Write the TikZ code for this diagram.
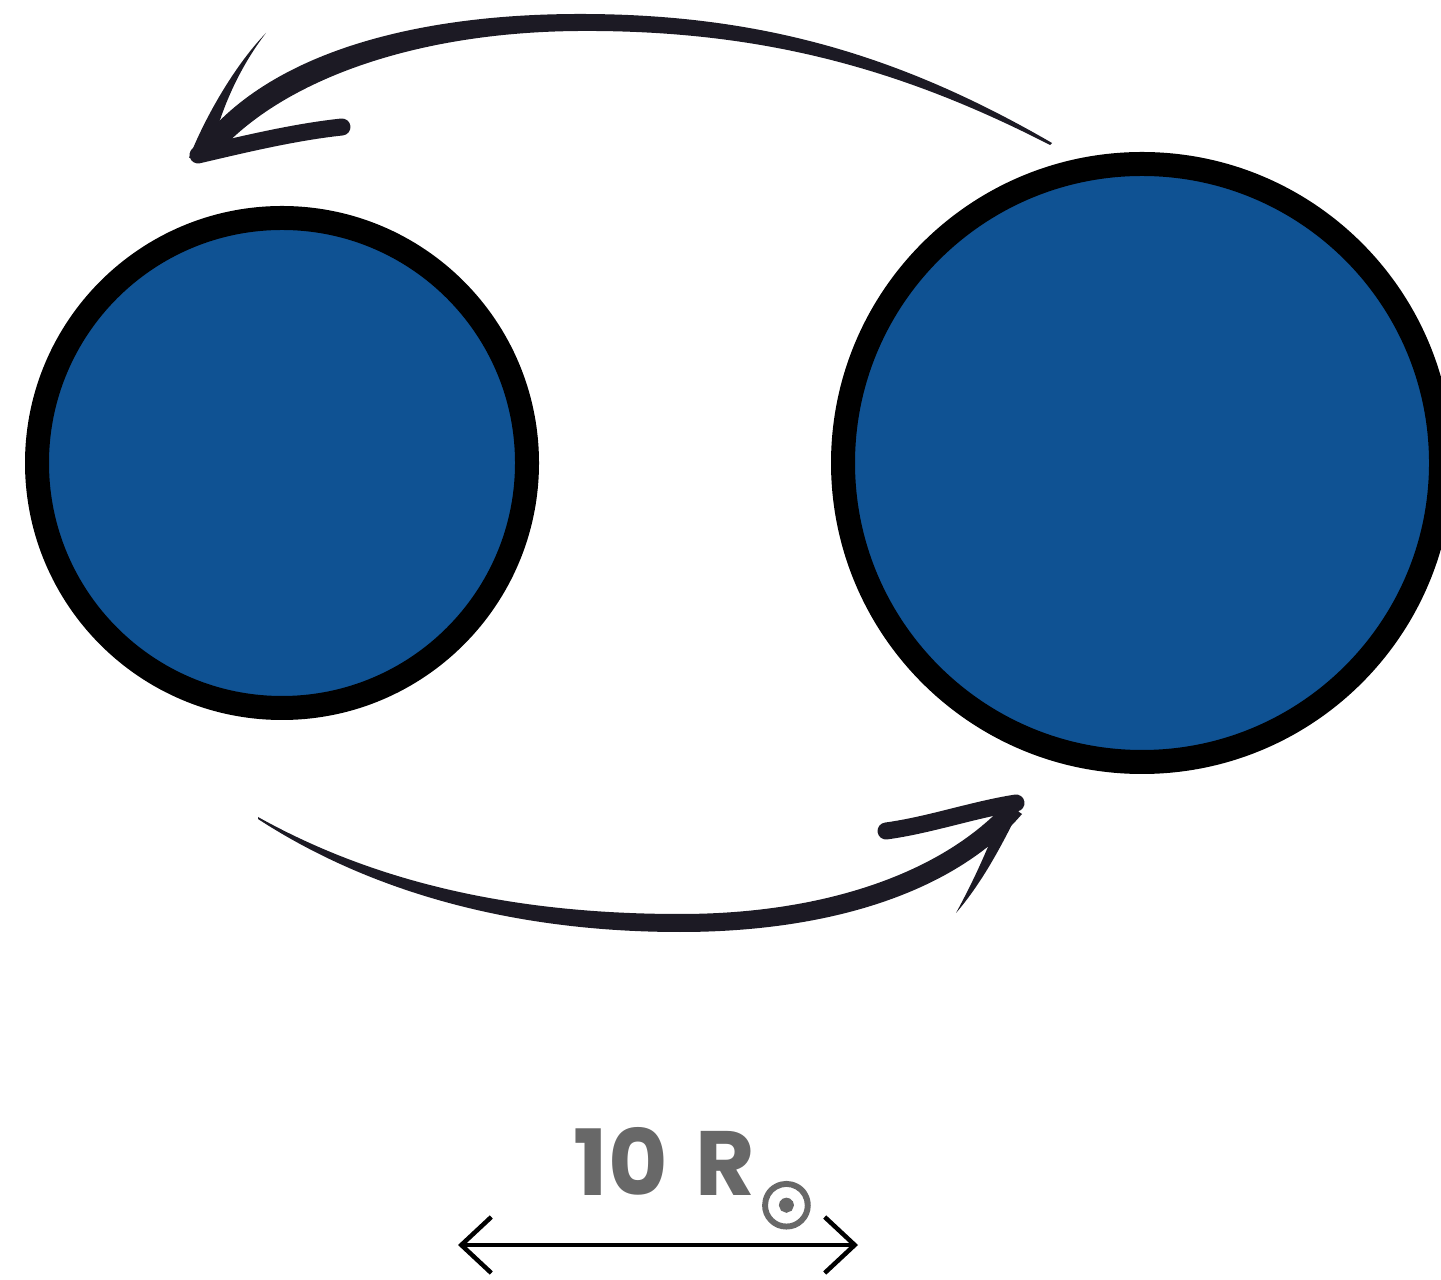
\documentclass[tikz,border=0pt]{standalone}
\usepackage{fontspec}
\setmainfont{Poppins}
\newfontfamily\sunfont[FakeBold=6]{DejaVu Sans}
\usetikzlibrary{arrows.meta}
\definecolor{starblue}{RGB}{15,82,147}
\definecolor{brushink}{RGB}{28,26,36}
\definecolor{labelgray}{RGB}{104,104,104}

\begin{document}
\begin{tikzpicture}[star/.style={circle,draw=black,fill=starblue,line width=0.24cm,inner sep=0pt},
  stroke/.style={brushink,line width=0.17cm,line cap=round},
  dimarrow/.style={black,line width=0.045cm,{Straight Barb[length=0.3cm,width=0.56cm]}-{Straight Barb[length=0.3cm,width=0.56cm]}}]
  \useasboundingbox (0,0) rectangle (14.41,-12.80);
  % the two stars
  \node[star,minimum size=4.90cm] (s1) at (2.82,-4.63) {};
  \node[star,minimum size=5.98cm] (s2) at (11.42,-4.63) {};
  % upper orbit arrow
  \fill[brushink] (10.52,-1.43) .. controls (9.00,-0.55) and (7.60,-0.14) .. (5.80,-0.14)
    .. controls (4.00,-0.14) and (2.55,-0.60) .. (1.92,-1.54)
    -- (2.12,-1.60) .. controls (2.72,-0.86) and (4.05,-0.32) .. (5.80,-0.31)
    .. controls (7.60,-0.30) and (9.00,-0.68) .. (10.50,-1.45) -- cycle;
  \fill[brushink] (2.66,-0.33) .. controls (2.36,-0.64) and (2.06,-1.15) .. (1.89,-1.58)
    -- (2.12,-1.48) .. controls (2.22,-1.05) and (2.42,-0.64) .. cycle;
  \draw[stroke] (1.98,-1.55) .. controls (2.45,-1.44) and (2.95,-1.32) .. (3.42,-1.27);
  % lower orbit arrow
  \fill[brushink] (2.58,-8.17) .. controls (3.80,-8.85) and (5.20,-9.14) .. (6.80,-9.14)
    .. controls (8.30,-9.14) and (9.45,-8.70) .. (10.06,-8.03)
    -- (10.22,-8.14) .. controls (9.55,-8.92) and (8.30,-9.32) .. (6.80,-9.32)
    .. controls (5.20,-9.32) and (3.75,-8.95) .. (2.58,-8.19) -- cycle;
  \fill[brushink] (10.22,-8.04) .. controls (10.00,-8.50) and (9.80,-8.85) .. (9.56,-9.13)
    .. controls (9.74,-8.80) and (9.90,-8.45) .. (10.02,-8.10) -- cycle;
  \draw[stroke] (8.86,-8.31) .. controls (9.30,-8.25) and (9.72,-8.10) .. (10.16,-8.03);
  % scale bar
  \node[anchor=base west,inner sep=0pt,text=labelgray,font=\fontsize{26}{30}\selectfont\bfseries] (lbl) at (5.73,-11.95)
    {10\hspace{0.3em}R\hspace{1.2pt}\raisebox{-9.3pt}{\sunfont\fontsize{17.5}{20}\selectfont ☉}};
  \coordinate (bl) at (4.58,-12.45);
  \coordinate (br) at (8.58,-12.45);
  \draw[dimarrow] (bl) -- (br);
\end{tikzpicture}
\end{document}
